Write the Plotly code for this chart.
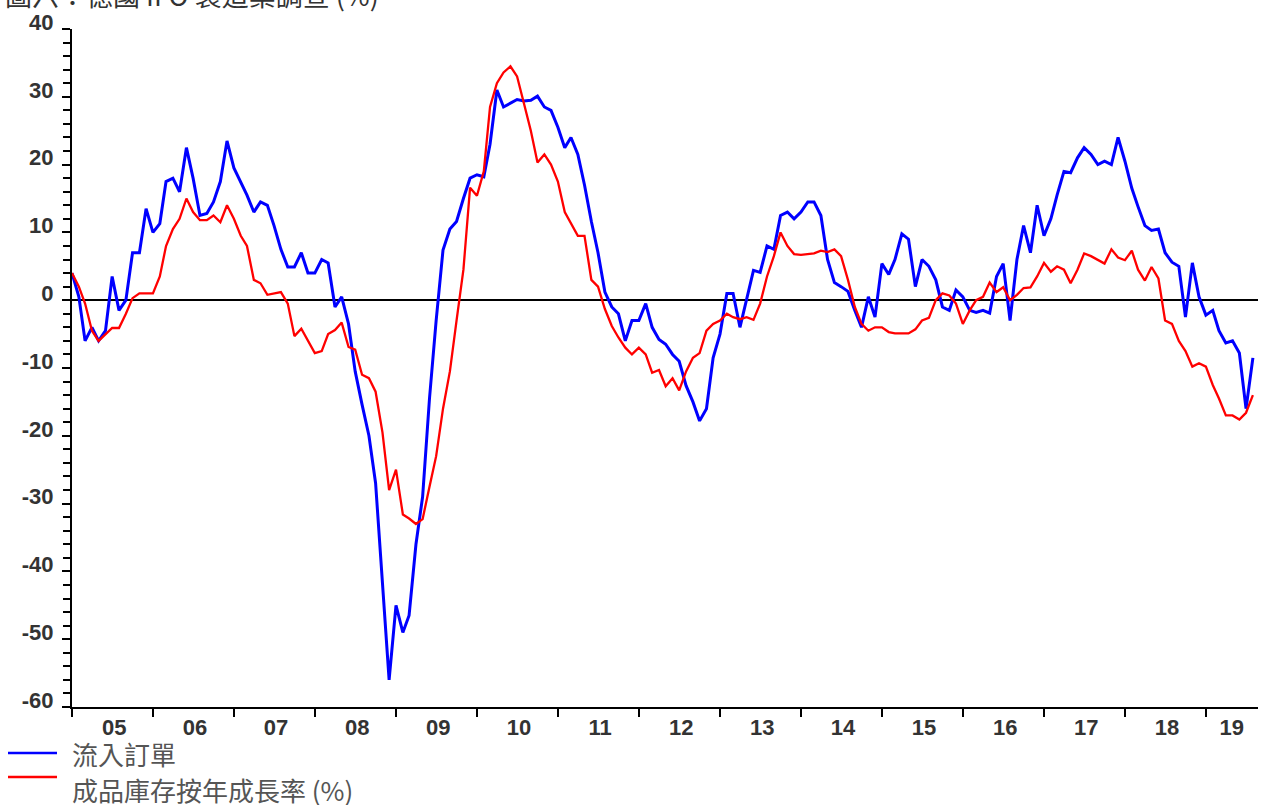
import pandas as pd
import plotly.graph_objects as go

# ---------------- data ----------------
months = pd.date_range("2005-01-01", periods=176, freq="MS")

incoming_orders = [
    4, 0.5, -6, -4, -6, -4.5, 3.5, -1.5, 0, 7, 7, 13.5,            # 2005
    10, 11.3, 17.5, 18, 16, 22.5, 18, 12.5, 12.8, 14.5, 17.5, 23.5,  # 2006
    19.5, 17.5, 15.5, 13, 14.5, 14, 11, 7.5, 4.9, 4.9, 7, 4,        # 2007
    4, 6, 5.5, -1, 0.5, -3.5, -10.5, -15.4, -20, -27, -42, -56,     # 2008
    -45, -49, -46.5, -36, -29, -14.5, -3, 7.4, 10.5, 11.6, 15, 18,  # 2009
    18.5, 18.2, 23, 31, 28.5, 29, 29.6, 29.4, 29.5, 30.1, 28.5, 28, # 2010
    25.5, 22.5, 24, 21.5, 17, 11.6, 7, 1.2, -1, -2, -6, -3,         # 2011
    -3, -0.5, -4, -5.8, -6.5, -8, -9, -12.6, -15, -17.8, -16, -8.5, # 2012
    -5, 1, 1, -4, 0, 4.4, 4.1, 8, 7.5, 12.5, 13, 12,                # 2013
    13, 14.5, 14.5, 12.5, 6, 2.6, 2, 1.3, -1.5, -4, 0.5, -2.5,      # 2014
    5.4, 3.8, 6, 9.8, 9, 2, 6, 5, 3, -1, -1.5, 1.5,                 # 2015
    0.5, -1.5, -1.8, -1.5, -1.9, 3.5, 5.4, -3, 6, 11, 7, 14,        # 2016
    9.5, 12, 15.5, 19, 18.8, 21, 22.5, 21.5, 20, 20.5, 20, 24,      # 2017
    20.5, 16.5, 13.8, 11, 10.3, 10.5, 7, 5.6, 5, -2.5, 5.5, 0.5,    # 2018
    -2.2, -1.5, -4.5, -6.3, -6, -7.8, -16, -8.5,                    # 2019
]

inventory_yoy = [
    4, 2, -0.5, -4.5, -6, -5, -4.1, -4.1, -2, 0.3, 1, 1,            # 2005
    1, 3.5, 8, 10.5, 12, 15, 13, 11.8, 11.8, 12.5, 11.5, 14,        # 2006
    12, 9.5, 8, 3, 2.5, 0.8, 1, 1.2, -0.5, -5.3, -4.2, -6,          # 2007
    -7.8, -7.5, -5, -4.4, -3.3, -6.9, -7.3, -11, -11.5, -13.5, -19.5, -28,  # 2008
    -25, -31.6, -32.2, -33, -32.3, -27.5, -23, -16, -10.5, -3, 4.5, 16.6,   # 2009
    15.4, 19, 28.5, 32, 33.6, 34.5, 33, 29, 25, 20.3, 21.5, 20,     # 2010
    17.5, 13, 11.3, 9.5, 9.5, 3, 2, -1.3, -3.8, -5.5, -7, -8,       # 2011
    -7, -8, -10.7, -10.3, -12.7, -11.5, -13.3, -10.5, -8.5, -7.8, -4.5, -3.5,  # 2012
    -3, -2, -2.5, -2.8, -2.5, -2.9, -0.5, 3.5, 6.5, 10, 8, 6.8,     # 2013
    6.7, 6.8, 6.9, 7.3, 7.1, 7.5, 6.5, 3, -1, -3.5, -4.5, -4,       # 2014
    -4, -4.7, -4.9, -4.9, -4.9, -4.3, -3, -2.6, 0, 1, 0.7, -0.5,    # 2015
    -3.5, -1.5, 0, 0.5, 2.6, 1.2, 1.9, 0, 0.8, 1.8, 1.9, 3.5,       # 2016
    5.5, 4.2, 5, 4.5, 2.5, 4.5, 6.9, 6.5, 6, 5.4, 7.5, 6.3,         # 2017
    5.9, 7.3, 4.5, 2.9, 4.9, 3.2, -3, -3.5, -6, -7.5, -9.8, -9.3,   # 2018
    -9.8, -12.5, -14.5, -17, -17, -17.6, -16.6, -14,                # 2019
]

series_names = ["流入訂單", "成品庫存按年成長率 (%)"]
year_labels = ["05", "06", "07", "08", "09", "10", "11", "12",
               "13", "14", "15", "16", "17", "18", "19"]
y_ticks = [-60, -50, -40, -30, -20, -10, 0, 10, 20, 30, 40]
y_tick_text = ["-60", "-50", "-40", "-30", "-20", "-10", "0", "10", "20", "30", "40"]
title_text = "圖六：德國 IFO 製造業調查 (%)"

# label in the middle of each year, the last (partial) year centred in its visible part
label_dates = [f"20{y}-07-10" for y in year_labels[:-1]] + ["2019-04-28"]
year_starts = [f"20{y}-01-01" for y in year_labels]

BLUE = "#0000FF"
RED = "#FF0000"
TICK_FONT = dict(family="Liberation Sans, Arial, sans-serif", size=22, color="#333333", weight="bold")
CJK = "Noto Sans CJK TC, Noto Sans CJK SC, sans-serif"

fig = go.Figure()
fig.add_trace(go.Scatter(x=months, y=incoming_orders, mode="lines", name=series_names[0],
                         line=dict(color=BLUE, width=3), showlegend=False))
fig.add_trace(go.Scatter(x=months, y=inventory_yoy, mode="lines", name=series_names[1],
                         line=dict(color=RED, width=2.3), showlegend=False))

fig.update_layout(
    width=1263, height=805,
    margin=dict(l=72, r=5, t=29, b=98),
    paper_bgcolor="white", plot_bgcolor="white",
)

fig.update_xaxes(
    type="date",
    range=["2005-01-01", "2019-08-24"],
    tickmode="array", tickvals=label_dates, ticktext=year_labels,
    ticks="", ticklabelstandoff=0,
    tickfont=TICK_FONT,
    showline=True, linecolor="black", linewidth=2,
    showgrid=False, zeroline=False,
    minor=dict(tickmode="array", tickvals=year_starts, ticks="outside",
               ticklen=8, tickwidth=2, tickcolor="black", showgrid=False),
)

fig.update_yaxes(
    range=[-60, 40],
    tickmode="array", tickvals=y_ticks, ticktext=y_tick_text,
    ticks="outside", ticklen=8, tickwidth=2, tickcolor="black",
    ticklabelstandoff=4, ticklabelshift=-7,
    tickfont=TICK_FONT,
    showline=True, linecolor="black", linewidth=2,
    showgrid=False,
    zeroline=True, zerolinecolor="black", zerolinewidth=1.5,
    minor=dict(tickmode="linear", tick0=0, dtick=2, ticks="outside",
               ticklen=7, tickwidth=2, tickcolor="black", showgrid=False),
)

# plot-area geometry used to place the hand-made legend and the clipped title
PX_L, PX_R, PX_T, PX_B = 72, 1258, 29, 707
def px_x(px):
    return (px - PX_L) / (PX_R - PX_L)
def px_y(py):
    return (PX_B - py) / (PX_B - PX_T)

legend_rows = [(series_names[0], BLUE, 753, 753), (series_names[1], RED, 777, 789)]
for name, col, line_y, text_y in legend_rows:
    fig.add_shape(type="line", xref="paper", yref="paper",
                  x0=px_x(8), x1=px_x(57), y0=px_y(line_y), y1=px_y(line_y),
                  line=dict(color=col, width=2.5))
    fig.add_annotation(xref="paper", yref="paper", x=px_x(70), y=px_y(text_y),
                       xanchor="left", yanchor="middle", showarrow=False,
                       text=name, font=dict(family=CJK, size=26, color="#555555"))

fig.add_annotation(xref="paper", yref="paper", x=px_x(3), y=px_y(-6),
                   xanchor="left", yanchor="middle", showarrow=False,
                   text=title_text, font=dict(family=CJK, size=27, color="#333333"))

fig.write_html("out.html", config={"displayModeBar": False},
               post_script="document.body.style.margin='0px';document.body.style.overflow='hidden';")
